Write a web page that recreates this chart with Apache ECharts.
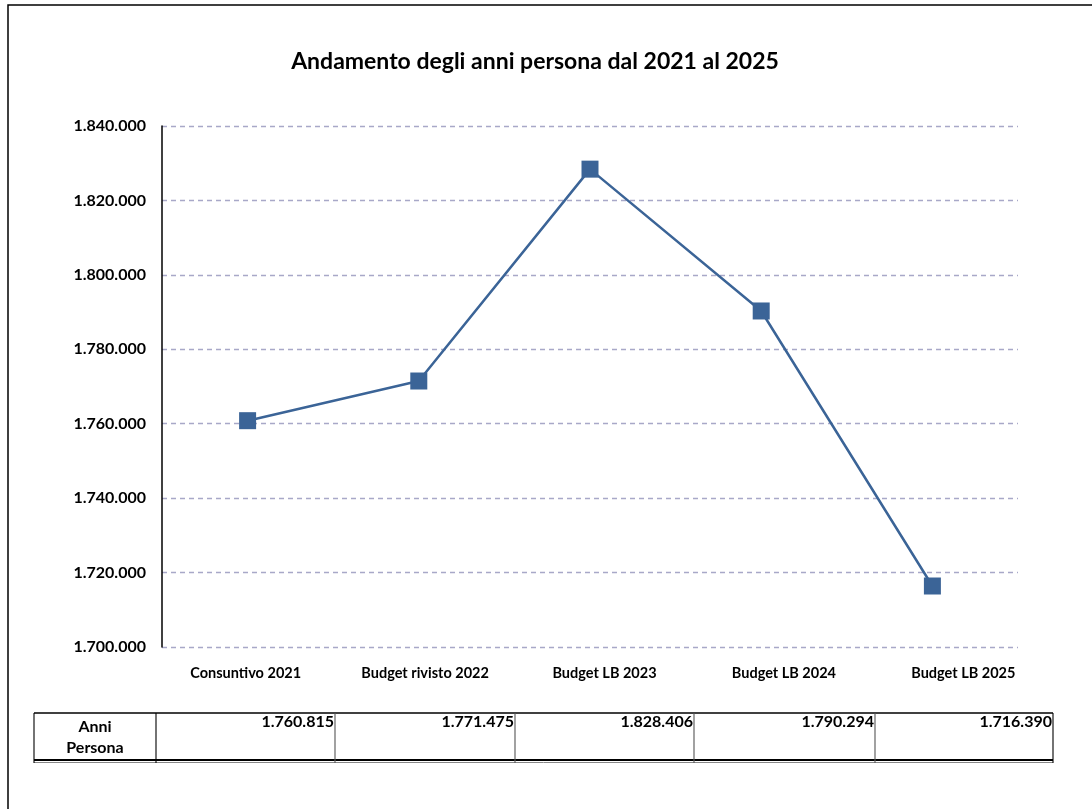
<!DOCTYPE html>
<html><head><meta charset="utf-8">
<script src="https://cdn.jsdelivr.net/npm/echarts@6/dist/echarts.min.js"></script>
<style>html,body{margin:0;padding:0;background:#fff}#c{width:1092px;height:809px}</style>
</head><body><div id="c"></div>
<script>
const categories = ['Consuntivo 2021','Budget rivisto 2022','Budget LB 2023','Budget LB 2024','Budget LB 2025'];
const anniPersona = [1760815, 1771475, 1828406, 1790294, 1716390];
const yTicks = [1700000, 1720000, 1740000, 1760000, 1780000, 1800000, 1820000, 1840000];
const rowLabel = 'Anni\nPersona';
const titleText = 'Andamento degli anni persona dal 2021 al 2025';

function fmt(v){ return String(Math.round(v)).replace(/\B(?=(\d{3})+(?!\d))/g,'.'); }
const FONT = 'Lato, "Open Sans", sans-serif';

const chart = echarts.init(document.getElementById('c'), null, {renderer:'canvas'});

const tableTop = 713, tableBottom = 760, tableLeft = 34;
const colEdges = [34, 156, 335, 515, 694, 875, 1053];
const g = [];
g.push({type:'rect', shape:{x:8, y:5, width:1200, height:900}, style:{fill:'none', stroke:'#000', lineWidth:1.5}, silent:true});
g.push({type:'line', shape:{x1:tableLeft, y1:tableTop, x2:colEdges[6], y2:tableTop}, style:{stroke:'#000', lineWidth:1.3}});
g.push({type:'line', shape:{x1:tableLeft, y1:tableBottom, x2:colEdges[6], y2:tableBottom}, style:{stroke:'#000', lineWidth:2}});
g.push({type:'line', shape:{x1:tableLeft, y1:tableBottom+2.5, x2:colEdges[6], y2:tableBottom+2.5}, style:{stroke:'#888', lineWidth:1}});
colEdges.forEach((x,i)=>{
  g.push({type:'line', shape:{x1:x, y1:tableTop, x2:x, y2:tableBottom+3}, style:{stroke: (i===0||i===1||i===6)?'#000':'#555', lineWidth:1.1}});
});
g.push({type:'text', x:(colEdges[0]+colEdges[1])/2, y:737, style:{text:rowLabel, font:'bold 16px '+FONT, fill:'#000', textAlign:'center', textVerticalAlign:'middle', lineHeight:21}});
anniPersona.forEach((v,i)=>{
  g.push({type:'text', x:colEdges[i+2]-1, y:714, style:{text:fmt(v), font:'bold 16px '+FONT, fill:'#000', textAlign:'right', textVerticalAlign:'top'}});
});

chart.setOption({
  animation:false,
  backgroundColor:'#fff',
  title:{text:titleText, left:530, top:45, textAlign:'center', textStyle:{fontFamily:FONT, fontWeight:'bold', fontSize:23, color:'#000'}},
  grid:[
    {left:162, right:74, top:126, bottom:162, containLabel:false},
    {left:156, right:39, top:126, bottom:162, containLabel:false}
  ],
  xAxis:[
    {type:'category', gridIndex:0, data:categories, boundaryGap:true,
      axisLine:{show:false}, axisTick:{show:false}, axisLabel:{show:false}},
    {type:'category', gridIndex:1, data:categories, boundaryGap:true,
      axisLine:{show:false}, axisTick:{show:false},
      axisLabel:{interval:0, margin:19, fontFamily:FONT, fontWeight:'bold', fontSize:14.5, color:'#000'}}
  ],
  yAxis:[
    {type:'value', gridIndex:0, min:yTicks[0], max:yTicks[yTicks.length-1], interval:yTicks[1]-yTicks[0],
      axisLine:{show:true, lineStyle:{color:'#000', width:1.5}},
      axisTick:{show:false},
      splitLine:{show:true, lineStyle:{color:'#A8A8C8', type:[5,4], width:1.3}},
      axisLabel:{margin:16, formatter:fmt, fontFamily:FONT, fontWeight:'bold', fontSize:16, color:'#000'}},
    {type:'value', gridIndex:1, min:yTicks[0], max:yTicks[yTicks.length-1], show:false, splitLine:{show:false}}
  ],
  series:[{type:'line', xAxisIndex:0, yAxisIndex:0, data:anniPersona, symbol:'rect', symbolSize:17,
    lineStyle:{color:'#3B6497', width:2.5}, itemStyle:{color:'#3B6497'}}],
  graphic:g
});
</script></body></html>
